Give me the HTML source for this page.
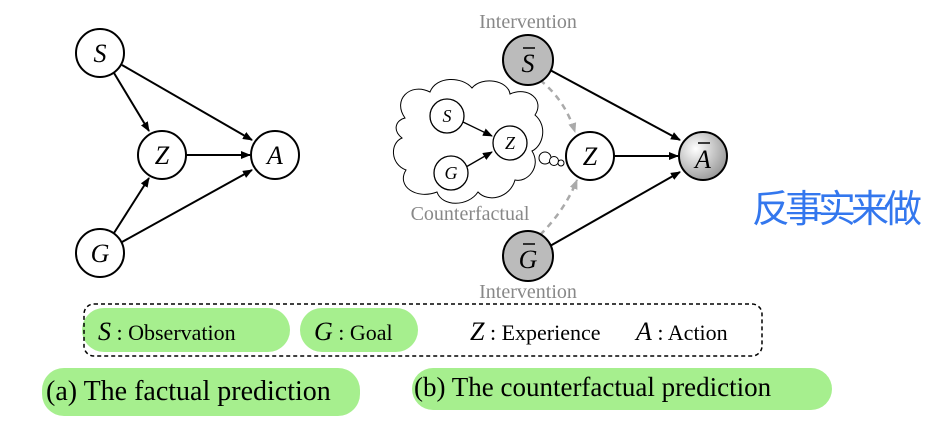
<!DOCTYPE html>
<html><head><meta charset="utf-8"><style>
html,body{margin:0;padding:0;background:#fff;}
svg{display:block;}
</style></head><body>
<svg width="938" height="430" viewBox="0 0 938 430" xmlns="http://www.w3.org/2000/svg" font-family="Liberation Serif, serif">
<defs>
<marker id="ah" markerWidth="10" markerHeight="8" refX="9" refY="4" orient="auto" markerUnits="userSpaceOnUse"><path d="M0,0 L10,4 L0,8 Z" fill="#000"/></marker>
<marker id="ahg" markerWidth="10" markerHeight="8" refX="9" refY="4" orient="auto" markerUnits="userSpaceOnUse"><path d="M0,0 L10,4 L0,8 Z" fill="#aaa"/></marker>
<radialGradient id="ga" cx="0.35" cy="0.35" r="0.7"><stop offset="0" stop-color="#fff"/><stop offset="1" stop-color="#999"/></radialGradient>
</defs>
<g fill="#a6ef8e">
<rect x="82" y="308" width="208" height="44" rx="22"/>
<rect x="300" y="308" width="118" height="44" rx="22"/>
<rect x="42" y="368" width="318" height="48" rx="22"/>
<rect x="412" y="368" width="420" height="42" rx="21"/>
</g>
<rect x="84" y="304" width="678" height="52" rx="10" fill="none" stroke="#000" stroke-width="1.5" stroke-dasharray="4,3"/>
<g stroke="#000" stroke-width="2" fill="none">
<line x1="114" y1="73" x2="149" y2="131" marker-end="url(#ah)"/>
<line x1="122" y1="65" x2="252" y2="140" marker-end="url(#ah)"/>
<line x1="186" y1="155" x2="250" y2="155" marker-end="url(#ah)"/>
<line x1="114" y1="233" x2="149" y2="178" marker-end="url(#ah)"/>
<line x1="122" y1="242" x2="252" y2="170" marker-end="url(#ah)"/>
</g>
<g stroke="#000" stroke-width="2" fill="#fff">
<circle cx="100" cy="53" r="24"/><circle cx="162" cy="155" r="24"/>
<circle cx="275" cy="155" r="24"/><circle cx="100" cy="253" r="24"/>
</g>
<g font-style="italic" font-size="26" text-anchor="middle">
<text x="100" y="62">S</text><text x="162" y="164">Z</text><text x="275" y="164">A</text><text x="100" y="262">G</text>
</g>
<g fill="#fff" stroke="#000" stroke-width="1">
<path d="M405,118 C392,100 410,82 430,92 C436,76 462,76 472,88 C482,76 508,80 510,94 C528,86 545,100 535,115 C548,126 543,146 532,151 C542,167 527,183 515,180 C510,198 488,203 478,192 C468,207 442,207 437,192 C416,200 396,186 406,170 C390,164 390,143 402,138 C392,130 396,120 405,118 Z"/>
</g>
<g fill="#fff" stroke="#000" stroke-width="1">
<circle cx="545" cy="158" r="6"/><circle cx="554" cy="161" r="4.5"/><circle cx="561" cy="163" r="3"/>
</g>
<g stroke="#000" stroke-width="1.3" fill="none">
<line x1="463" y1="122" x2="492" y2="136" marker-end="url(#ah)"/>
<line x1="466" y1="167" x2="492" y2="152" marker-end="url(#ah)"/>
</g>
<g stroke="#000" stroke-width="1.3" fill="#fff">
<circle cx="447" cy="116" r="17"/><circle cx="510" cy="143" r="17"/><circle cx="451" cy="173" r="17"/>
</g>
<g font-style="italic" font-size="18" text-anchor="middle">
<text x="447" y="122">S</text><text x="510" y="149">Z</text><text x="451" y="179">G</text>
</g>
<g stroke="#aaa" stroke-width="2.5" fill="none" stroke-dasharray="6,5">
<path d="M540,80 Q565,100 575,132" marker-end="url(#ahg)"/>
<path d="M540,235 Q565,210 577,180" marker-end="url(#ahg)"/>
</g>
<g stroke="#000" stroke-width="2" fill="none">
<line x1="550" y1="70" x2="680" y2="140" marker-end="url(#ah)"/>
<line x1="614" y1="156" x2="678" y2="156" marker-end="url(#ah)"/>
<line x1="550" y1="246" x2="680" y2="172" marker-end="url(#ah)"/>
</g>
<g stroke="#000" stroke-width="2">
<circle cx="528" cy="60" r="25" fill="#bbb"/>
<circle cx="590" cy="156" r="24" fill="#fff"/>
<circle cx="703" cy="156" r="24" fill="url(#ga)"/>
<circle cx="528" cy="256" r="25" fill="#bbb"/>
</g>
<g font-style="italic" font-size="26" text-anchor="middle">
<text x="528" y="72">S</text><text x="590" y="165">Z</text><text x="703" y="168">A</text><text x="528" y="268">G</text>
</g>
<g stroke="#000" stroke-width="1.5">
<line x1="523" y1="48" x2="535" y2="48"/><line x1="698" y1="143" x2="710" y2="143"/><line x1="523" y1="244" x2="535" y2="244"/>
</g>
<g fill="#888" font-size="20" text-anchor="middle">
<text x="528" y="28">Intervention</text>
<text x="528" y="298">Intervention</text>
<text x="470" y="220">Counterfactual</text>
</g>
<g font-size="22">
<text x="98" y="340"><tspan font-style="italic" font-size="26">S</tspan> : Observation</text>
<text x="314" y="340"><tspan font-style="italic" font-size="26">G</tspan> : Goal</text>
<text x="470" y="340"><tspan font-style="italic" font-size="26">Z</tspan> : Experience</text>
<text x="636" y="340"><tspan font-style="italic" font-size="26">A</tspan> : Action</text>
</g>
<g font-size="28">
<text x="46" y="400">(a) The factual prediction</text>
<text x="414" y="396" font-size="27">(b) The counterfactual prediction</text>
</g>
<text x="752" y="222" font-family="Liberation Sans, Noto Sans CJK SC, sans-serif" font-size="38" fill="#3377ee" letter-spacing="-5">反事实来做</text>
</svg>
</body></html>
